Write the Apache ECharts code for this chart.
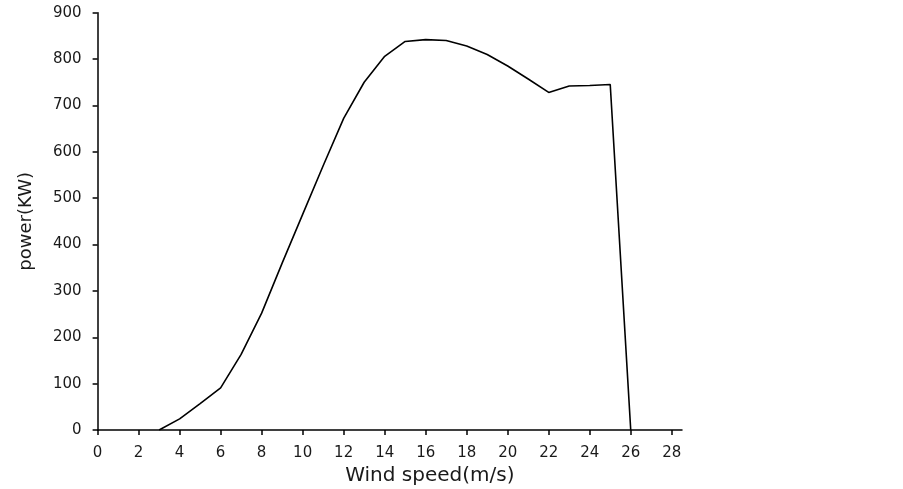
<!DOCTYPE html>
<html>
<head>
<meta charset="utf-8">
<script src="https://cdn.jsdelivr.net/npm/echarts@6/dist/echarts.min.js"></script>
<style>
html,body{margin:0;padding:0;background:#fff;}
#chart{width:903px;height:489px;}
</style>
</head>
<body>
<div id="chart"></div>
<script>
const windSpeed = [3,4,5,6,7,8,9,10,11,12,13,14,15,16,17,18,19,20,21,22,23,24,25,26];
const power = [0,24,57,91,163,252,360,465,570,672,750,806,838,842,840,828,810,785,757,728,742,743,745,0];
const xTicks = [0,2,4,6,8,10,12,14,16,18,20,22,24,26,28];
const yTicks = [0,100,200,300,400,500,600,700,800,900];

const chart = echarts.init(document.getElementById('chart'), null, {renderer:'canvas'});
const txt = '#1a1a1a';
chart.setOption({
  backgroundColor:'#ffffff',
  animation:false,
  grid:{left:97.6, right:221, top:12.7, bottom:59, containLabel:false, outerBoundsMode:'none'},
  xAxis:{
    type:'value', min:0, max:28.5,
    name:'Wind speed(m/s)', nameLocation:'middle', nameGap:34,
    nameTextStyle:{fontFamily:'DejaVu Sans', fontSize:20, color:txt, padding:[0,0,0,80]},
    axisLine:{show:true, onZero:false, lineStyle:{color:'#000', width:1.5}},
    axisTick:{show:true, inside:false, length:5, customValues:xTicks, lineStyle:{color:'#000', width:1.5}},
    axisLabel:{customValues:xTicks, margin:16, fontFamily:'DejaVu Sans', fontSize:15, color:txt},
    splitLine:{show:false}
  },
  yAxis:{
    type:'value', min:0, max:900, interval:100,
    name:'power(KW)', nameLocation:'middle', nameGap:62, nameRotate:90,
    nameTextStyle:{fontFamily:'DejaVu Sans', fontSize:18, color:txt},
    axisLine:{show:true, onZero:false, lineStyle:{color:'#000', width:1.5}},
    axisTick:{show:true, inside:false, length:5, customValues:yTicks, lineStyle:{color:'#000', width:1.5}},
    axisLabel:{customValues:yTicks, margin:16, fontFamily:'DejaVu Sans', fontSize:15, color:txt},
    splitLine:{show:false}
  },
  series:[{
    type:'line',
    data: windSpeed.map((x,i)=>[x, power[i]]),
    showSymbol:false, symbol:'none',
    lineStyle:{color:'#000', width:1.6},
    smooth:false
  }]
});
</script>
</body>
</html>
